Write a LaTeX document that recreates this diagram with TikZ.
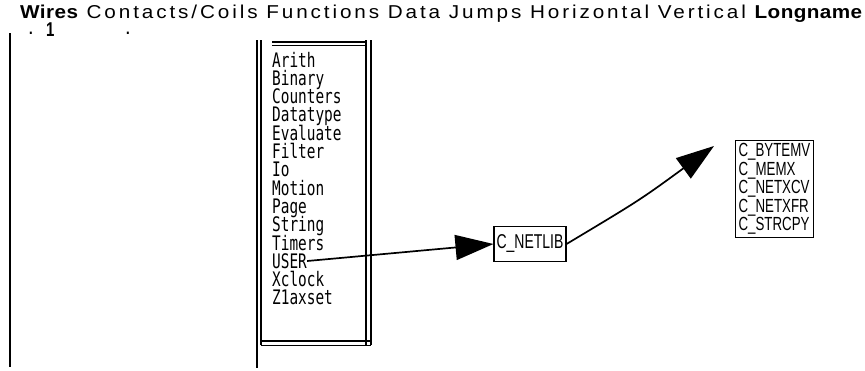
\documentclass[tikz,border=0pt]{standalone}
\usepackage{fontspec}
\setmainfont{Liberation Sans}
\newfontfamily\menufont[LetterSpace=14]{Liberation Sans}
\newfontfamily\menubold[LetterSpace=2]{Liberation Sans Bold}
\newfontfamily\listfont{DejaVu Sans Mono}
\newfontfamily\boxfont{Liberation Sans}
\usetikzlibrary{arrows.meta}
\begin{document}
\begin{tikzpicture}[x=1pt,y=-1pt,
  menu/.style={anchor=base west,inner sep=0pt,font=\menufont\fontsize{16}{16}\selectfont},
  item/.style={anchor=base west,inner sep=0pt,font=\listfont\fontsize{16}{16}\selectfont},
  cbox/.style={draw,line width=1.1pt,inner sep=0pt},
  frame/.style={line width=1.7pt},
  ln/.style={line width=1.7pt},
  bigarrow/.style={ln,-{Triangle[length=38pt,width=25pt]}}
]
\useasboundingbox (0,0) rectangle (865,370);
% menu bar
\node[menu] (menubar) at (20,18) {\resizebox{842pt}{13.5pt}{{\menubold Wires} Contacts/Coils Functions Data Jumps Horizontal Vertical {\menubold Longname}}};
% left column
\draw[line width=1.9pt] (10,33) -- (10,367);
\node[item] (d1) at (26,34) {.};
\node[item,font=\menubold\fontsize{20}{20}\selectfont] (one) at (46,36) {\scalebox{0.75}[1]{1}};
\node[item] (d2) at (123,34) {.};
% list frame
\draw[frame] (257,40) -- (257,368);
\draw[frame] (261,40) -- (261,345);
\draw[frame] (272,42) -- (366,42);
\draw[line width=0.8pt] (272,45.5) -- (366,45.5);
\draw[frame] (366,40) -- (366,345);
\draw[frame] (371,40) -- (371,345);
\draw[frame] (261,341) -- (371,341);
\draw[frame] (261,345.5) -- (371,345.5);
% items
\foreach \t [count=\i] in {Arith,Binary,Counters,Datatype,Evaluate,Filter,Io,Motion,Page,String,Timers,USER,Xclock,Z1axset}{
  \node[item] (it\i) at (272,{67+(\i-1)*18.3}) {\scalebox{0.9}[1.25]{\t}};
}
% C_NETLIB
\node[cbox,minimum width=72pt,minimum height=35pt,font=\boxfont\fontsize{20}{20}\selectfont] (netlib) at (530,244)
  {\scalebox{0.7}[1]{C\_NETLIB}};
% right box
\node[cbox,anchor=north west,align=left,inner sep=3pt,font=\boxfont\fontsize{19}{18.5}\selectfont] (funcs) at (735,140)
  {\scalebox{0.7}[1]{C\_BYTEMV}\\
   \scalebox{0.7}[1]{C\_MEMX}\\
   \scalebox{0.7}[1]{C\_NETXCV}\\
   \scalebox{0.7}[1]{C\_NETXFR}\\
   \scalebox{0.7}[1]{C\_STRCPY}};
% connectors
\coordinate (tip) at (714,146);
\draw[bigarrow] (it12.east) -- (netlib.west);
\draw[bigarrow] (netlib.east) .. controls (640,200) .. (tip);
\end{tikzpicture}
\end{document}
